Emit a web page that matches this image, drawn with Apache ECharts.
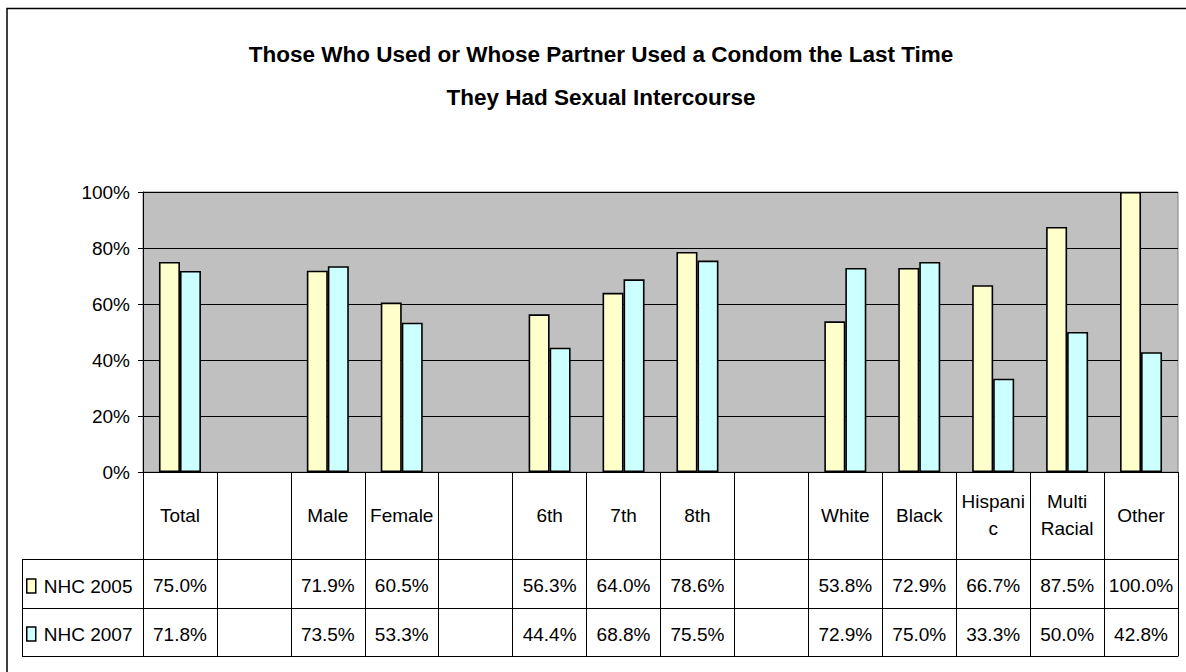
<!DOCTYPE html>
<html>
<head>
<meta charset="utf-8">
<script src="https://cdn.jsdelivr.net/npm/echarts@6/dist/echarts.min.js"></script>
<style>
  html, body { margin: 0; padding: 0; background: #ffffff; }
  #chart { width: 1186px; height: 672px; }
</style>
</head>
<body>
<div id="chart"></div>
<script>
// ---- data ----
const categories = ['Total', ' ', 'Male', 'Female', '  ', '6th', '7th', '8th', '   ', 'White', 'Black', 'Hispanic', 'Multi Racial', 'Other'];
const categoryLabels = ['Total', '', 'Male', 'Female', '', '6th', '7th', '8th', '', 'White', 'Black', 'Hispani\nc', 'Multi\nRacial', 'Other'];
const seriesNames = ['NHC 2005', 'NHC 2007'];
const nhc2005 = [75.0, null, 71.9, 60.5, null, 56.3, 64.0, 78.6, null, 53.8, 72.9, 66.7, 87.5, 100.0];
const nhc2007 = [71.8, null, 73.5, 53.3, null, 44.4, 68.8, 75.5, null, 72.9, 75.0, 33.3, 50.0, 42.8];
const yTicks = [0, 20, 40, 60, 80, 100];
const titleText = 'Those Who Used or Whose Partner Used a Condom the Last Time\nThey Had Sexual Intercourse';

// ---- styles ----
const FONT = "'Liberation Sans', Arial, sans-serif";
const FS = 19;
const colors = ['#FFFFCC', '#CCFFFF'];
const G = { left: 143, top: 192, width: 1035, height: 280 };
const rowBottoms = [559, 608, 656];
const fmtVal = v => (v === null || v === undefined) ? '' : v.toFixed(1) + '%';

const chart = echarts.init(document.getElementById('chart'), null, { renderer: 'svg' });

const option = {
  backgroundColor: '#ffffff',
  animation: false,
  textStyle: { fontFamily: FONT },
  title: {
    text: titleText,
    left: 601,
    top: 33,
    padding: 0,
    textAlign: 'center',
    textStyle: { fontFamily: FONT, fontSize: 22.5, fontWeight: 'bold', color: '#000', lineHeight: 43 }
  },
  legend: seriesNames.map((n, i) => ({
    data: [n],
    left: 26,
    top: i === 0 ? 575 : 623,
    padding: 0,
    itemWidth: 9,
    itemHeight: 14,
    itemGap: 0,
    selectedMode: false,
    icon: 'rect',
    textStyle: { fontFamily: FONT, fontSize: FS, color: '#000', lineHeight: 22, padding: [0, 0, 0, 3] },
    itemStyle: { borderColor: '#000', borderWidth: 1.5 }
  })),
  grid: {
    left: G.left, top: G.top, width: G.width, height: G.height,
    show: true, backgroundColor: '#C0C0C0', borderColor: '#808080', borderWidth: 1
  },
  xAxis: [
    {
      type: 'category', data: categories, boundaryGap: true, position: 'bottom', offset: 0,
      axisLine: { show: true, lineStyle: { color: '#000', width: 1 } },
      axisTick: { show: true, interval: 0, length: rowBottoms[0] - (G.top + G.height), lineStyle: { color: '#000' } },
      axisLabel: {
        interval: 0, margin: 43, verticalAlign: 'middle', fontSize: FS, color: '#000', lineHeight: 27, fontFamily: FONT,
        formatter: (v, i) => categoryLabels[i]
      },
      splitLine: { show: false }
    },
    {
      type: 'category', data: categories, boundaryGap: true, position: 'bottom', offset: rowBottoms[0] - (G.top + G.height),
      axisLine: { show: true, lineStyle: { color: '#000', width: 1 } },
      axisTick: { show: true, interval: 0, length: rowBottoms[1] - rowBottoms[0], lineStyle: { color: '#000' } },
      axisLabel: {
        interval: 0, margin: 26, verticalAlign: 'middle', fontSize: FS, color: '#000', fontFamily: FONT,
        formatter: (v, i) => fmtVal(nhc2005[i])
      },
      splitLine: { show: false }
    },
    {
      type: 'category', data: categories, boundaryGap: true, position: 'bottom', offset: rowBottoms[1] - (G.top + G.height),
      axisLine: { show: true, lineStyle: { color: '#000', width: 1 } },
      axisTick: { show: true, interval: 0, length: rowBottoms[2] - rowBottoms[1], lineStyle: { color: '#000' } },
      axisLabel: {
        interval: 0, margin: 26, verticalAlign: 'middle', fontSize: FS, color: '#000', fontFamily: FONT,
        formatter: (v, i) => fmtVal(nhc2007[i])
      },
      splitLine: { show: false }
    },
    {
      type: 'category', data: categories, boundaryGap: true, position: 'bottom', offset: rowBottoms[2] - (G.top + G.height),
      axisLine: { show: true, lineStyle: { color: '#000', width: 1 } },
      axisTick: { show: false },
      axisLabel: { show: false },
      splitLine: { show: false }
    }
  ],
  yAxis: {
    type: 'value', min: yTicks[0], max: yTicks[yTicks.length - 1], interval: 20,
    axisLine: { show: true, lineStyle: { color: '#000', width: 1 } },
    axisTick: { show: true, length: 5, inside: false, lineStyle: { color: '#000' } },
    axisLabel: { formatter: '{value}%', fontSize: FS, color: '#000', margin: 13, fontFamily: FONT },
    splitLine: { show: true, lineStyle: { color: '#000', width: 1 } }
  },
  series: [
    {
      name: seriesNames[0], type: 'bar', xAxisIndex: 0, data: nhc2005,
      barWidth: 21, barGap: '0%',
      itemStyle: { color: colors[0], borderColor: '#000', borderWidth: 1.6 }
    },
    {
      name: seriesNames[1], type: 'bar', xAxisIndex: 0, data: nhc2007,
      barWidth: 21, barGap: '0%',
      itemStyle: { color: colors[1], borderColor: '#000', borderWidth: 1.6 }
    }
  ],
  graphic: [
    { type: 'rect', silent: true, z: 100, shape: { x: 7, y: 8.5, width: 1300, height: 800 },
      style: { fill: 'none', stroke: '#000', lineWidth: 1.5 } },
    { type: 'line', silent: true, shape: { x1: 22.5, y1: rowBottoms[0], x2: 22.5, y2: rowBottoms[2] }, style: { stroke: '#000', lineWidth: 1 } },
    { type: 'line', silent: true, shape: { x1: 22, y1: rowBottoms[0] + 0.5, x2: G.left, y2: rowBottoms[0] + 0.5 }, style: { stroke: '#000', lineWidth: 1 } },
    { type: 'line', silent: true, shape: { x1: 22, y1: rowBottoms[1] + 0.5, x2: G.left, y2: rowBottoms[1] + 0.5 }, style: { stroke: '#000', lineWidth: 1 } },
    { type: 'line', silent: true, shape: { x1: 22, y1: rowBottoms[2] + 0.5, x2: G.left, y2: rowBottoms[2] + 0.5 }, style: { stroke: '#000', lineWidth: 1 } }
  ]
};

chart.setOption(option);
</script>
</body>
</html>
